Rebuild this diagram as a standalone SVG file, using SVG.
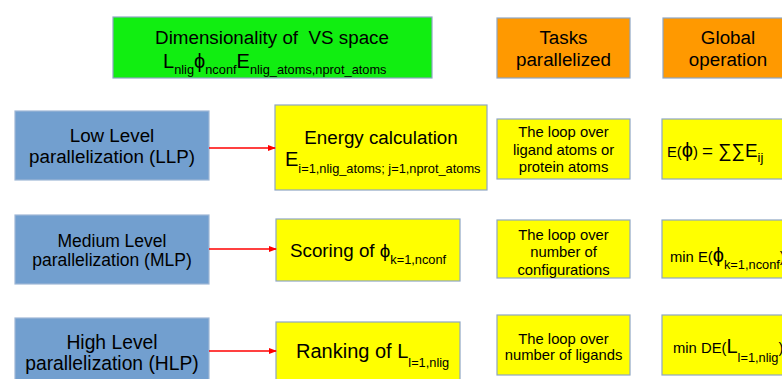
<svg xmlns="http://www.w3.org/2000/svg" width="782" height="379" viewBox="0 0 782 379">
<style>
text{font-family:"Liberation Sans",Arial,sans-serif;fill:#000}
.box{stroke:#8ea6c4;stroke-width:1.2}
.g{fill:#11ee11}.o{fill:#ff9900}.y{fill:#ffff00}.b{fill:#729fcf;stroke:#9fb7d6}
.t17{font-size:18.8px}.t13{font-size:14.8px}.sub{font-size:12.8px}.big{font-size:20px}
.c{text-anchor:middle}
.arr{stroke:#ff0000;stroke-width:1.5;fill:none;marker-end:url(#ah)}
</style>
<defs>
<marker id="ah" markerWidth="8" markerHeight="8" refX="7" refY="4" orient="auto" markerUnits="userSpaceOnUse">
<path d="M0,1 L8,4 L0,7 Z" fill="#ff0000"/>
</marker>
</defs>
<rect width="782" height="379" fill="#fff"/>
<g id="header-dim">
<rect class="box g" x="113" y="17" width="319" height="61"/>
<text class="t17 c" x="272" y="44" xml:space="preserve">Dimensionality of&#160; VS space</text>
<text x="163" y="68"><tspan class="big">L</tspan><tspan class="sub" dy="6">nlig</tspan><tspan class="big" dy="-6">ϕ</tspan><tspan class="sub" dy="6">nconf</tspan><tspan class="big" dy="-6">E</tspan><tspan class="sub" dy="6">nlig_atoms,nprot_atoms</tspan></text>
</g>
<g id="header-tasks">
<rect class="box o" x="497" y="18" width="133" height="60"/>
<text class="t17 c" x="563.5" y="44">Tasks</text>
<text class="t17 c" x="563.5" y="66">parallelized</text>
</g>
<g id="header-global">
<rect class="box o" x="663" y="18" width="130" height="60"/>
<text class="t17 c" x="728" y="44">Global</text>
<text class="t17 c" x="728" y="66">operation</text>
</g>
<g id="llp">
<rect class="box b" x="15" y="111" width="194" height="69"/>
<text class="t17 c" x="112" y="142">Low Level</text>
<text class="t17 c" x="112" y="163">parallelization (LLP)</text>
</g>
<g id="mlp">
<rect class="box b" x="15" y="215" width="194" height="69"/>
<text class="c" style="font-size:17.5px" x="112" y="247">Medium Level</text>
<text class="c" style="font-size:17.5px" x="112" y="266">parallelization (MLP)</text>
</g>
<g id="hlp">
<rect class="box b" x="15" y="318" width="194" height="69"/>
<text class="c" style="font-size:19.3px" x="112" y="349">High Level</text>
<text class="c" style="font-size:19.3px" x="112" y="370">parallelization (HLP)</text>
</g>
<g id="energy">
<rect class="box y" x="275" y="105" width="212" height="85"/>
<text class="t17 c" x="381" y="144">Energy calculation</text>
<text x="285" y="166"><tspan class="big">E</tspan><tspan class="sub" dy="7">i=1,nlig_atoms; j=1,nprot_atoms</tspan></text>
</g>
<g id="scoring">
<rect class="box y" x="276" y="219" width="184" height="62"/>
<text x="290" y="257"><tspan class="t17">Scoring of ϕ</tspan><tspan class="sub" dy="7">k=1,nconf</tspan></text>
</g>
<g id="ranking">
<rect class="box y" x="276" y="322" width="184" height="65"/>
<text x="296" y="358"><tspan class="big">Ranking of L</tspan><tspan class="sub" dy="9">l=1,nlig</tspan></text>
</g>
<g id="task1">
<rect class="box y" x="497" y="119" width="133" height="60"/>
<text class="t13 c" x="563.5" y="137">The loop over</text>
<text class="t13 c" x="563.5" y="155">ligand atoms or</text>
<text class="t13 c" x="563.5" y="172">protein atoms</text>
</g>
<g id="task2">
<rect class="box y" x="497" y="220" width="133" height="58"/>
<text class="t13 c" x="563.5" y="240">The loop over</text>
<text class="t13 c" x="563.5" y="257">number of</text>
<text class="t13 c" x="563.5" y="275">configurations</text>
</g>
<g id="task3">
<rect class="box y" x="497" y="315" width="133" height="60"/>
<text class="t13 c" x="563.5" y="344">The loop over</text>
<text class="t13 c" x="563.5" y="360">number of ligands</text>
</g>
<g id="global1">
<rect class="box y" x="662" y="119" width="131" height="60"/>
<text x="667" y="157"><tspan class="t13">E(</tspan><tspan class="big">ϕ</tspan><tspan class="t13">) </tspan><tspan class="t17">= ∑∑E</tspan><tspan class="sub" dy="5">ij</tspan></text>
</g>
<g id="global2">
<rect class="box y" x="662" y="220" width="131" height="58"/>
<text x="670" y="262"><tspan class="t13">min E(</tspan><tspan class="big">ϕ</tspan><tspan class="sub" dy="7">k=1,nconf</tspan><tspan class="t13" dy="-7">)</tspan></text>
</g>
<g id="global3">
<rect class="box y" x="662" y="315" width="131" height="60"/>
<text x="673" y="353"><tspan class="t13">min DE(</tspan><tspan class="big">L</tspan><tspan class="sub" dy="9">l=1,nlig</tspan><tspan class="t13" dy="-9">)</tspan></text>
</g>
<g id="connectors">
<line class="arr" x1="209" y1="148" x2="275" y2="148"/>
<line class="arr" x1="209" y1="249" x2="276" y2="249"/>
<line class="arr" x1="209" y1="351" x2="276" y2="351"/>
</g>
</svg>
